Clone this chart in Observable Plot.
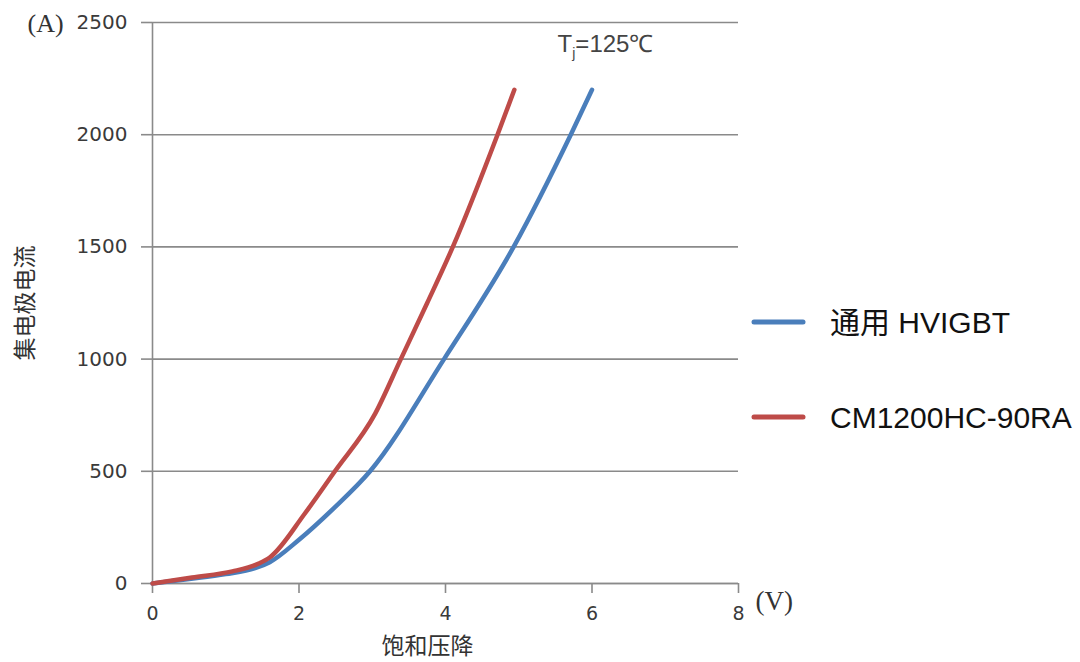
<!DOCTYPE html>
<html>
<head>
<meta charset="utf-8">
<script src="https://cdn.jsdelivr.net/npm/d3@7"></script>
<script src="https://cdn.jsdelivr.net/npm/@observablehq/plot@0.6"></script>
<style>
  html, body { margin: 0; padding: 0; background: #fff; }
  #chart svg g[aria-label="y-axis tick"] path,
  #chart svg g[aria-label="x-axis tick"] path { stroke: #8a8a8a; stroke-width: 1.6; stroke-opacity: 1; }
</style>
</head>
<body>
<div id="chart"></div>
<script>
// Series: 通用 HVIGBT
const blueV = [0, 0.5, 1.0, 1.4, 1.6, 2.0, 2.47, 2.97, 3.98, 4.93, 5.71, 6.0];
const blueI = [0, 20, 42, 68, 95, 195, 334, 500, 1000, 1500, 2000, 2200];
// Series: CM1200HC-90RA
const redV = [0, 0.54, 1.09, 1.45, 1.6, 2.08, 2.49, 3.04, 3.39, 3.75, 4.1, 4.71, 4.94];
const redI = [0, 27, 54, 89, 116, 312, 500, 757, 1000, 1250, 1500, 2000, 2200];

const seriesNames = ["通用 HVIGBT", "CM1200HC-90RA"];
const seriesColors = ["#4a7ebb", "#be4b48"];
const xTicks = [0, 2, 4, 6, 8];
const yTicks = [0, 500, 1000, 1500, 2000, 2500];
const xTitle = "饱和压降";
const yTitle = "集电极电流";
const yUnit = "(A)";
const xUnit = "(V)";
const note = "Tj=125℃";

const data = [
  ...blueV.map((v, i) => ({series: seriesNames[0], v, I: blueI[i]})),
  ...redV.map((v, i) => ({series: seriesNames[1], v, I: redI[i]}))
];

const grid = "#8a8a8a";

const chart = Plot.plot({
  width: 1080,
  height: 662,
  marginLeft: 152,
  marginRight: 342,
  marginTop: 22,
  marginBottom: 79,
  style: {fontFamily: "DejaVu Sans, sans-serif", fontSize: "19px", color: "#3a3a3a", background: "#fff", overflow: "visible"},
  x: {domain: [0, 8]},
  y: {domain: [0, 2500]},
  color: {domain: seriesNames, range: seriesColors},
  marks: [
    Plot.gridY(yTicks, {stroke: grid, strokeOpacity: 1, strokeWidth: 1.6}),
    Plot.ruleX([0], {stroke: grid, strokeWidth: 1.6}),
    Plot.ruleY([0], {stroke: grid, strokeWidth: 1.6}),
    Plot.axisY(yTicks, {tickSize: 11, tickPadding: 14, tickFormat: d3.format("d"), label: null, fontSize: 20}),
    Plot.axisX(xTicks, {tickSize: 10, tickPadding: 13, tickFormat: d3.format("d"), label: null, fontSize: 19}),
    Plot.line(data, {x: "v", y: "I", z: "series", stroke: "series", strokeWidth: 4.5, curve: "monotone-x", strokeLinecap: "round"}),
    Plot.text([yUnit], {frameAnchor: "top-left", dx: -125, dy: 1, lineAnchor: "middle", textAnchor: "start", fontFamily: "Liberation Serif, DejaVu Serif, serif", fontSize: 26, fill: "#333"}),
    Plot.text([xUnit], {frameAnchor: "bottom-right", dx: 17, dy: 18, lineAnchor: "middle", textAnchor: "start", fontFamily: "Liberation Serif, DejaVu Serif, serif", fontSize: 27, fill: "#333"}),
    Plot.text([yTitle], {frameAnchor: "left", dx: -127, rotate: -90, textAnchor: "middle", lineAnchor: "middle", fontFamily: "Noto Sans CJK SC, sans-serif", fontSize: 23, fill: "#333"}),
    Plot.text([xTitle], {frameAnchor: "bottom", dx: -18, dy: 63, textAnchor: "middle", lineAnchor: "middle", fontFamily: "Noto Sans CJK SC, sans-serif", fontSize: 23, fill: "#333"}),
    Plot.text([note], {x: 5.53, y: 2402, textAnchor: "start", fontFamily: "Liberation Sans, Arial, sans-serif", fontSize: 24, fill: "#444"})
  ]
});

document.getElementById("chart").appendChild(chart);

// subscript j in the note
d3.select(chart).selectAll("text").filter(function() { return this.textContent === note; }).each(function() {
  const t = d3.select(this);
  t.text(null);
  t.append("tspan").text("T");
  t.append("tspan").text("j").attr("font-size", 14).attr("dy", 6);
  t.append("tspan").text("=125℃").attr("dy", -6);
});

// legend
const legend = d3.select(chart).append("g").attr("class", "legend").attr("text-anchor", "start");
const legendY = [322, 417];
seriesNames.forEach((name, i) => {
  legend.append("line")
    .attr("x1", 754).attr("x2", 803)
    .attr("y1", legendY[i]).attr("y2", legendY[i])
    .attr("stroke", seriesColors[i]).attr("stroke-width", 5).attr("stroke-linecap", "round");
  legend.append("text")
    .attr("x", 830).attr("y", legendY[i]).attr("dy", "0.36em")
    .attr("text-anchor", "start")
    .attr("font-family", "Liberation Sans, Noto Sans CJK SC, sans-serif")
    .attr("font-size", 30).attr("fill", "#111")
    .text(name);
});
</script>
</body>
</html>
